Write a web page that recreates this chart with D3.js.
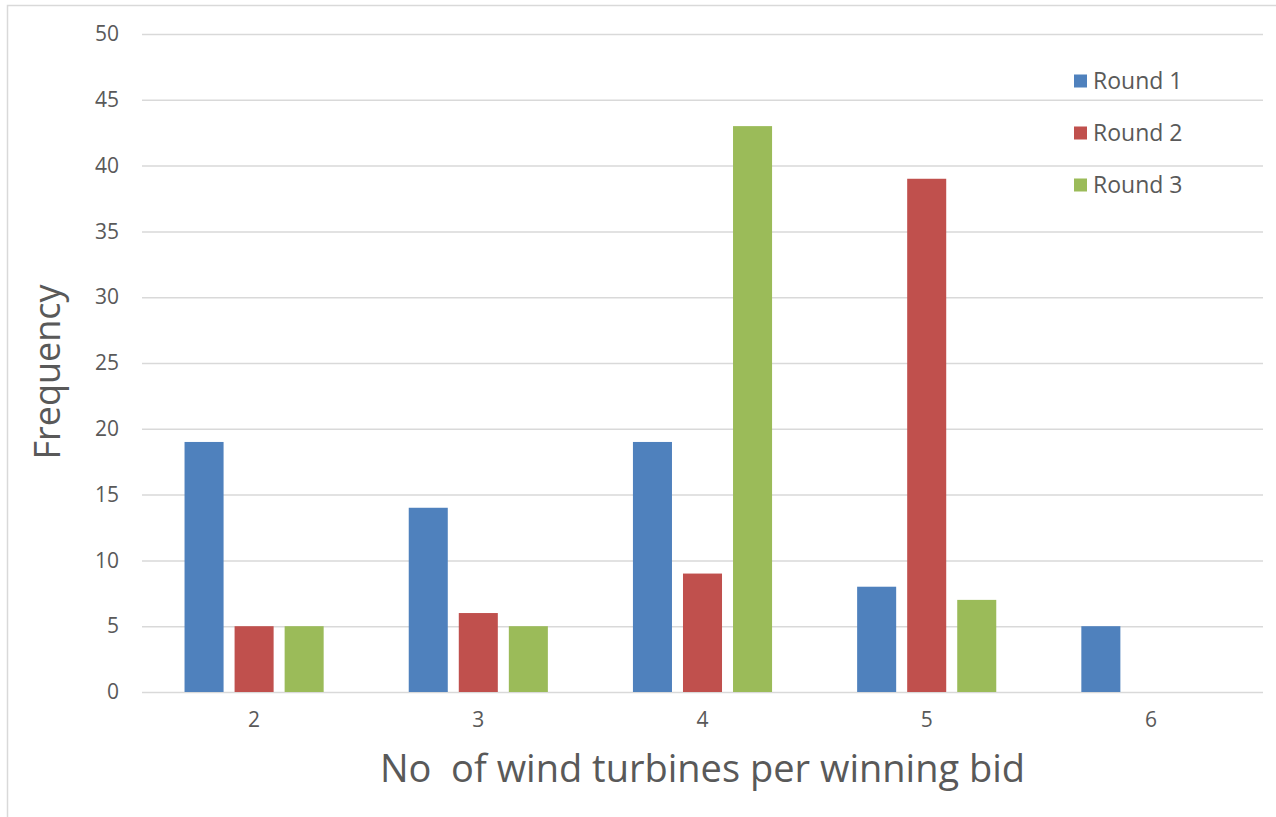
<!DOCTYPE html>
<html>
<head>
<meta charset="utf-8">
<script src="https://cdn.jsdelivr.net/npm/d3@7"></script>
<style>
  html, body { margin: 0; padding: 0; background: #fff; }
  svg { display: block; }
  text { font-family: "Open Sans", "Noto Sans", sans-serif; fill: #595959; }
</style>
</head>
<body>
<svg id="chart" width="1276" height="817"></svg>
<script>
// Number of turbines per winning bid
const categories = ["2", "3", "4", "5", "6"];
const seriesNames = ["Round 1", "Round 2", "Round 3"];
const round1 = [19, 14, 19, 8, 5];
const round2 = [5, 6, 9, 39, 0];
const round3 = [5, 5, 43, 7, 0];
const yTicks = [0, 5, 10, 15, 20, 25, 30, 35, 40, 45, 50];
const colors = ["#4f81bd", "#c0504d", "#9bbb59"];

const seriesValues = [round1, round2, round3];
const W = 1276, H = 817;
const margin = { left: 142, right: 13, top: 34, bottom: 125 };
const svg = d3.select("#chart");

// chart frame
svg.append("rect")
  .attr("x", 7.5).attr("y", 5.5)
  .attr("width", W + 10).attr("height", H + 10)
  .attr("fill", "none").attr("stroke", "#d9d9d9").attr("stroke-width", 1.5);

const x = d3.scaleBand().domain(categories)
  .range([margin.left, W - margin.right]);
const xInner = d3.scaleBand().domain(seriesNames)
  .range([0, x.bandwidth()]).paddingInner(0.22).paddingOuter(0.85);
const y = d3.scaleLinear().domain([0, 50])
  .range([H - margin.bottom, margin.top]);

// gridlines + y labels
const yAxis = d3.axisLeft(y).tickValues(yTicks)
  .tickSize(-(W - margin.right - margin.left)).tickPadding(23);
const gy = svg.append("g")
  .attr("transform", `translate(${margin.left},0)`)
  .call(yAxis);
gy.select(".domain").remove();
gy.selectAll(".tick line").attr("stroke", "#d9d9d9").attr("stroke-width", 1.5);
gy.selectAll(".tick text")
  .style("font-size", "21px").attr("fill", "#595959");

// bars
const groups = svg.append("g").selectAll("g")
  .data(seriesNames)
  .join("g")
  .attr("fill", (d, i) => colors[i]);

groups.selectAll("rect")
  .data((s, i) => categories.map((c, j) => ({ s, c, v: seriesValues[i][j] })))
  .join("rect")
  .filter(d => d.v > 0)
  .attr("x", d => x(d.c) + xInner(d.s))
  .attr("y", d => y(d.v))
  .attr("width", xInner.bandwidth())
  .attr("height", d => y(0) - y(d.v));

// x labels
const xAxis = d3.axisBottom(x).tickSize(0).tickPadding(20);
const gx = svg.append("g")
  .attr("transform", `translate(0,${y(0)})`)
  .call(xAxis);
gx.select(".domain").remove();
gx.selectAll(".tick text")
  .style("font-size", "21px").attr("fill", "#595959");

// axis titles
svg.append("text")
  .attr("x", (margin.left + W - margin.right) / 2)
  .attr("y", 782)
  .attr("text-anchor", "middle")
  .style("font-size", "38px")
  .style("white-space", "pre")
  .attr("xml:space", "preserve")
  .text("No  of wind turbines per winning bid");

svg.append("text")
  .attr("transform", "translate(60,372) rotate(-90)")
  .attr("text-anchor", "middle")
  .style("font-size", "36px")
  .text("Frequency");

// legend
const legend = svg.append("g").selectAll("g")
  .data(seriesNames)
  .join("g")
  .attr("transform", (d, i) => `translate(1074,${81 + i * 52})`);
legend.append("rect")
  .attr("x", 0).attr("y", -6.5).attr("width", 13).attr("height", 13)
  .attr("fill", (d, i) => colors[i]);
legend.append("text")
  .attr("x", 19).attr("y", 0).attr("dy", "0.36em")
  .style("font-size", "23px")
  .text(d => d);
</script>
</body>
</html>
